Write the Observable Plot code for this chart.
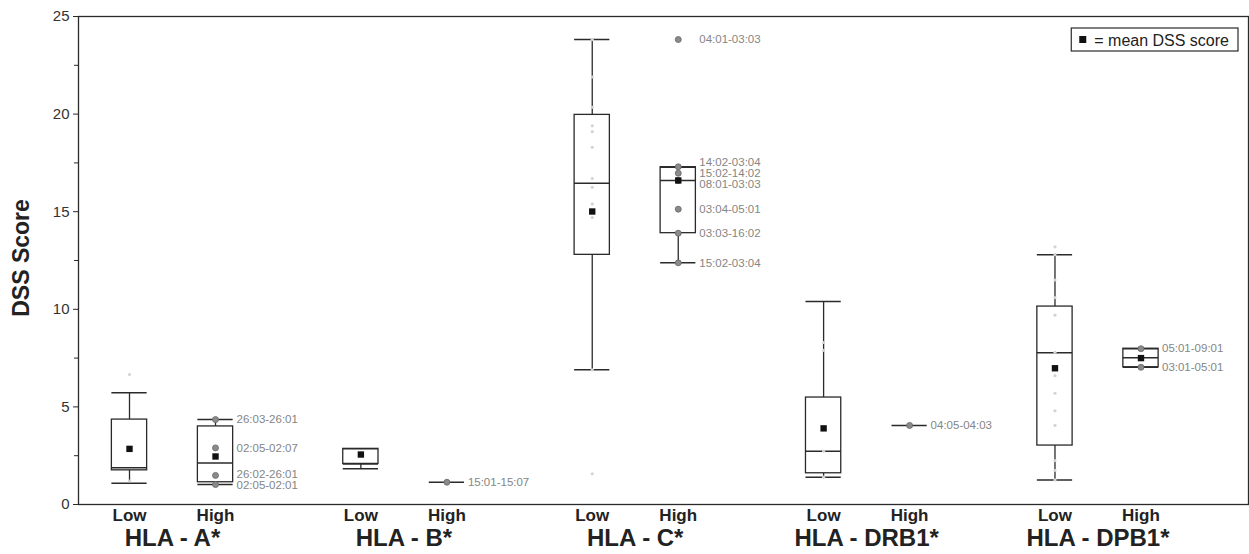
<!DOCTYPE html>
<html><head><meta charset="utf-8">
<script src="https://cdn.jsdelivr.net/npm/d3@7"></script>
<script src="https://cdn.jsdelivr.net/npm/@observablehq/plot@0.6"></script>
<style>
body{margin:0;background:#fff;}
#chart{position:relative;width:1249px;height:554px;}
</style>
</head><body><div id="chart"></div>
<script>
// ---- data ----
const groups = ["HLA - A*", "HLA - B*", "HLA - C*", "HLA - DRB1*", "HLA - DPB1*"];
const levels = ["Low", "High"];

// box summaries (DSS score)
const boxGroup  = ["HLA - A*", "HLA - A*", "HLA - B*", "HLA - C*", "HLA - C*", "HLA - DRB1*", "HLA - DPB1*", "HLA - DPB1*"];
const boxLevel  = ["Low", "High", "Low", "Low", "High", "Low", "Low", "High"];
const boxMin    = [1.09, 1.02, 1.83, 6.90, 12.38, 1.40, 1.26, 7.03];
const boxQ1     = [1.75, 1.14, 2.08, 12.79, 13.90, 1.60, 3.02, 7.03];
const boxMedian = [1.88, 2.13, 2.08, 16.46, 16.60, 2.73, 7.77, 7.52];
const boxQ3     = [4.35, 4.00, 2.85, 19.96, 17.28, 5.48, 10.14, 7.98];
const boxMax    = [5.72, 4.35, 2.85, 23.82, 17.28, 10.40, 12.80, 7.98];
const boxMean   = [2.85, 2.46, 2.56, 15.01, 16.60, 3.90, 6.98, 7.50];

// single-value groups
const singleGroup = ["HLA - B*", "HLA - DRB1*"];
const singleLevel = ["High", "High"];
const singleValue = [1.14, 4.05];

// labelled individual scores (High groups)
const ptGroup = ["HLA - A*", "HLA - A*", "HLA - A*", "HLA - A*",
  "HLA - B*",
  "HLA - C*", "HLA - C*", "HLA - C*", "HLA - C*", "HLA - C*", "HLA - C*", "HLA - C*",
  "HLA - DRB1*",
  "HLA - DPB1*", "HLA - DPB1*"];
const ptValue = [4.35, 2.90, 1.49, 1.02,
  1.14,
  23.82, 17.30, 16.97, 16.60, 15.13, 13.90, 12.38,
  4.05,
  7.98, 7.03];
const ptLabel = ["26:03-26:01", "02:05-02:07", "26:02-26:01", "02:05-02:01",
  "15:01-15:07",
  "04:01-03:03", "14:02-03:04", "15:02-14:02", "08:01-03:03", "03:04-05:01", "03:03-16:02", "15:02-03:04",
  "04:05-04:03",
  "05:01-09:01", "03:01-05:01"];

// faint individual scores (Low groups)
const faintGroup = ["HLA - A*", "HLA - A*",
  "HLA - C*", "HLA - C*", "HLA - C*", "HLA - C*", "HLA - C*", "HLA - C*", "HLA - C*", "HLA - C*", "HLA - C*", "HLA - C*", "HLA - C*", "HLA - C*",
  "HLA - DRB1*", "HLA - DRB1*", "HLA - DRB1*", "HLA - DRB1*",
  "HLA - DPB1*", "HLA - DPB1*", "HLA - DPB1*", "HLA - DPB1*", "HLA - DPB1*", "HLA - DPB1*", "HLA - DPB1*", "HLA - DPB1*", "HLA - DPB1*", "HLA - DPB1*", "HLA - DPB1*", "HLA - DPB1*", "HLA - DPB1*"];
const faintValue = [6.66, 1.20,
  23.82, 21.90, 20.35, 19.40, 19.10, 18.30, 16.70, 16.25, 15.40, 14.70, 6.90, 1.57,
  8.30, 7.90, 2.73, 1.40,
  13.20, 12.80, 11.50, 10.60, 9.70, 7.80, 6.60, 5.70, 4.80, 4.05, 2.25, 1.75, 1.26];

const yTicks = [0, 5, 10, 15, 20, 25];
const yMinorTicks = [2.5, 7.5, 12.5, 17.5, 22.5];
const yTitle = "DSS Score";
const legendText = "= mean DSS score";

(function () {
// ---- layout helpers ----
const groupStep = 2.69;
const xOf = (g, l) => groups.indexOf(g) * groupStep + (l === "High" ? 1 : 0);
const hw = 0.205;

const boxes = boxGroup.map((g, i) => ({
  x: xOf(g, boxLevel[i]), min: boxMin[i], q1: boxQ1[i], median: boxMedian[i],
  q3: boxQ3[i], max: boxMax[i], mean: boxMean[i]
}));
const singles = singleGroup.map((g, i) => ({x: xOf(g, singleLevel[i]), value: singleValue[i]}));
const pts = ptGroup.map((g, i) => ({group: g, x: xOf(g, "High"), value: ptValue[i], label: ptLabel[i], labelY: ptValue[i]}));
const faint = faintGroup.map((g, i) => ({x: xOf(g, "Low"), value: faintValue[i]}));

// spread overlapping labels apart (min separation in data units)
const sep = 0.56;
for (const g of groups) {
  const arr = pts.filter(d => d.group === g).sort((a, b) => b.value - a.value);
  for (let it = 0; it < 200; it++) {
    for (let k = 0; k < arr.length - 1; k++) {
      const gap = arr[k].labelY - arr[k + 1].labelY;
      if (gap < sep) {
        const d = (sep - gap) / 2;
        arr[k].labelY += d; arr[k + 1].labelY -= d;
      }
    }
  }
}

const levelRows = groups.flatMap(g => levels.map(l => ({x: xOf(g, l), text: l})));
const groupRows = groups.map(g => ({x: xOf(g, "Low") + 0.5, text: g}));

const ink = "#2a2a2a";
const font = "Liberation Sans, Arial, Helvetica, sans-serif";

const chart = Plot.plot({
  width: 1249, height: 554,
  marginLeft: 78, marginRight: 1, marginTop: 16, marginBottom: 50,
  style: {fontFamily: font, background: "white", overflow: "visible"},
  x: {domain: [-0.593, 13.01], axis: null},
  y: {domain: [0, 25]},
  marks: [
    Plot.axisY({ticks: yTicks, tickSize: 5, tickPadding: 4, fontSize: 15, label: null, stroke: ink, color: "#333"}),
    Plot.axisY({ticks: yMinorTicks, tickSize: 4, tickFormat: () => "", label: null, stroke: ink}),
    Plot.ruleX(boxes, {x: "x", y1: "q3", y2: "max", stroke: ink, strokeWidth: 1.3}),
    Plot.ruleX(boxes, {x: "x", y1: "min", y2: "q1", stroke: ink, strokeWidth: 1.3}),
    Plot.rect(boxes, {x1: d => d.x - hw, x2: d => d.x + hw, y1: "q1", y2: "q3", fill: "white", stroke: ink, strokeWidth: 1.3}),
    Plot.ruleY(boxes, {y: "median", x1: d => d.x - hw, x2: d => d.x + hw, stroke: ink, strokeWidth: 1.5}),
    Plot.ruleY(boxes, {y: "max", x1: d => d.x - hw, x2: d => d.x + hw, stroke: ink, strokeWidth: 1.5}),
    Plot.ruleY(boxes, {y: "min", x1: d => d.x - hw, x2: d => d.x + hw, stroke: ink, strokeWidth: 1.5}),
    Plot.ruleY(singles, {y: "value", x1: d => d.x - hw, x2: d => d.x + hw, stroke: ink, strokeWidth: 1.5}),
    Plot.dot(faint, {x: "x", y: "value", r: 1.6, fill: "#d4d4d4", stroke: "none"}),
    Plot.dot(pts, {x: "x", y: "value", r: 3, fill: "#8a8a8a", stroke: "#666", strokeWidth: 0.8}),
    Plot.dot(boxes, {x: "x", y: "mean", symbol: "square", r: 3.6, fill: "#111", stroke: "none"}),
    Plot.text(pts, {x: "x", y: "labelY", text: "label", dx: 21, textAnchor: "start", fontSize: 11.5, fill: "#858585"}),
    Plot.text(levelRows, {x: "x", text: "text", frameAnchor: "bottom", dy: 16, fontSize: 17, fontWeight: "bold", fill: "#222"}),
    Plot.text(groupRows, {x: "x", text: "text", frameAnchor: "bottom", dy: 41, fontSize: 24, fontWeight: "bold", fill: "#222"}),
    Plot.frame({stroke: ink, strokeWidth: 1.3})
  ]
});
document.getElementById("chart").appendChild(chart);

const svg = d3.select(chart);

// y-axis title
svg.append("text")
  .attr("transform", "translate(21,258) rotate(-90)")
  .attr("text-anchor", "middle").attr("dominant-baseline", "central")
  .attr("font-family", font).attr("font-size", 23).attr("font-weight", "bold").attr("fill", "#222")
  .text(yTitle);

// legend
const lg = svg.append("g").attr("font-family", font);
const txt = lg.append("text").attr("font-size", 16).attr("fill", "#222")
  .attr("text-anchor", "start").attr("dominant-baseline", "central").text(legendText);
const tw = txt.node().getComputedTextLength();
const lgRight = 1238, lgTop = 28, lgH = 23;
const lgLeft = lgRight - tw - 32;
lg.insert("rect", "text").attr("x", lgLeft).attr("y", lgTop).attr("width", lgRight - lgLeft).attr("height", lgH)
  .attr("fill", "white").attr("stroke", ink).attr("stroke-width", 1.2);
lg.append("rect").attr("x", lgLeft + 8).attr("y", lgTop + lgH / 2 - 3.5).attr("width", 7).attr("height", 7).attr("fill", "#111");
txt.attr("x", lgLeft + 23).attr("y", lgTop + lgH / 2 + 1);
})();
</script>
</body></html>
